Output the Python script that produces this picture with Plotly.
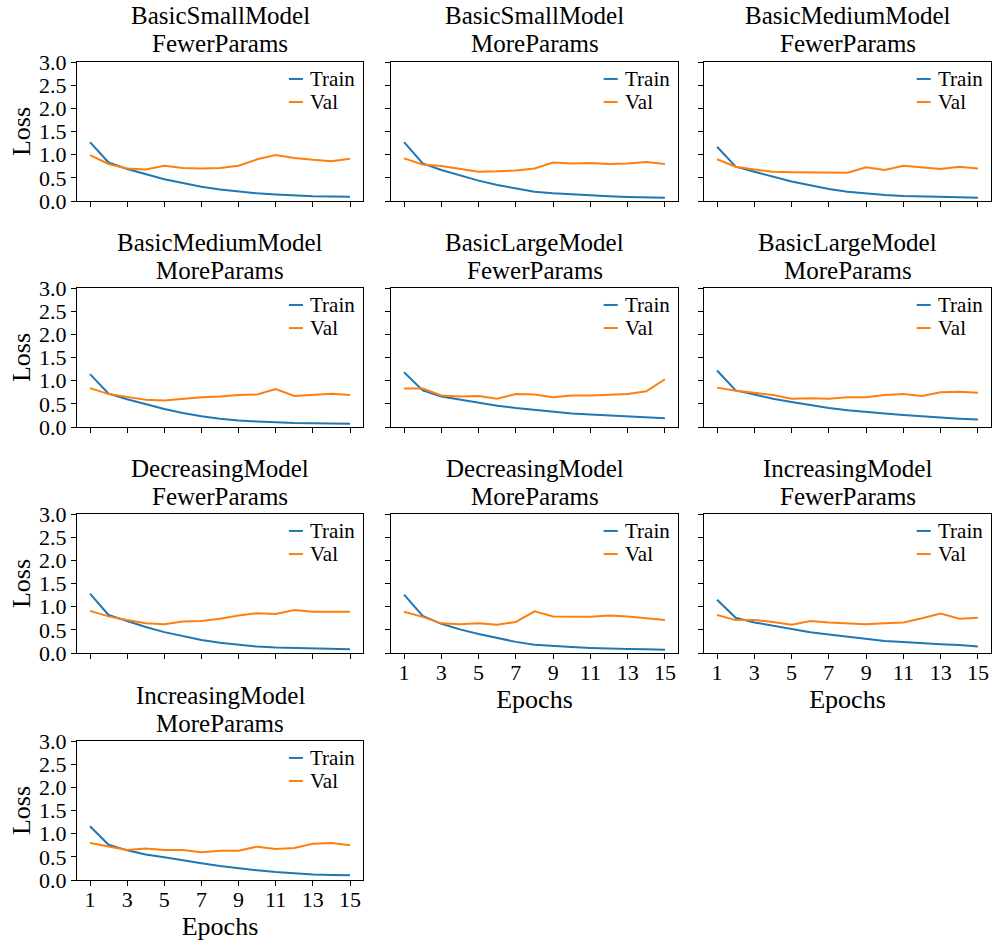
import plotly.graph_objects as go

epochs = list(range(1, 16))
x_tick_vals = [1, 3, 5, 7, 9, 11, 13, 15]
y_tick_vals = [0.0, 0.5, 1.0, 1.5, 2.0, 2.5, 3.0]

# Per-model loss curves (train / validation) over 15 epochs
train_basic_small_fewer = [1.27, 0.83, 0.69, 0.58, 0.47, 0.39, 0.31, 0.25, 0.20, 0.165, 0.14, 0.115, 0.10, 0.095, 0.09]
val_basic_small_fewer = [0.99, 0.80, 0.70, 0.68, 0.76, 0.71, 0.70, 0.71, 0.76, 0.90, 0.99, 0.93, 0.89, 0.86, 0.91]

train_basic_small_more = [1.27, 0.81, 0.67, 0.55, 0.44, 0.345, 0.27, 0.20, 0.165, 0.14, 0.115, 0.10, 0.085, 0.08, 0.07]
val_basic_small_more = [0.92, 0.79, 0.755, 0.69, 0.63, 0.64, 0.66, 0.70, 0.83, 0.81, 0.82, 0.80, 0.81, 0.84, 0.80]

train_basic_medium_fewer = [1.17, 0.74, 0.63, 0.53, 0.42, 0.34, 0.26, 0.20, 0.16, 0.13, 0.11, 0.095, 0.085, 0.08, 0.07]
val_basic_medium_fewer = [0.90, 0.74, 0.68, 0.63, 0.62, 0.62, 0.62, 0.61, 0.73, 0.67, 0.76, 0.73, 0.69, 0.74, 0.70]

train_basic_medium_more = [1.14, 0.72, 0.60, 0.49, 0.39, 0.30, 0.23, 0.18, 0.14, 0.12, 0.10, 0.085, 0.08, 0.07, 0.07]
val_basic_medium_more = [0.84, 0.71, 0.65, 0.59, 0.57, 0.61, 0.64, 0.66, 0.69, 0.70, 0.82, 0.67, 0.70, 0.72, 0.69]

train_basic_large_fewer = [1.18, 0.79, 0.66, 0.59, 0.52, 0.46, 0.41, 0.37, 0.33, 0.29, 0.27, 0.25, 0.235, 0.22, 0.19]
val_basic_large_fewer = [0.83, 0.83, 0.68, 0.66, 0.67, 0.61, 0.71, 0.70, 0.64, 0.68, 0.68, 0.69, 0.71, 0.77, 1.03]

train_basic_large_more = [1.22, 0.79, 0.70, 0.61, 0.54, 0.47, 0.41, 0.36, 0.32, 0.29, 0.26, 0.23, 0.20, 0.18, 0.16]
val_basic_large_more = [0.85, 0.78, 0.74, 0.69, 0.61, 0.62, 0.61, 0.64, 0.64, 0.69, 0.71, 0.67, 0.75, 0.76, 0.74]

train_decreasing_fewer = [1.28, 0.82, 0.69, 0.56, 0.45, 0.36, 0.28, 0.22, 0.18, 0.14, 0.12, 0.11, 0.10, 0.09, 0.08]
val_decreasing_fewer = [0.91, 0.79, 0.71, 0.64, 0.62, 0.68, 0.69, 0.74, 0.81, 0.86, 0.84, 0.93, 0.89, 0.89, 0.89]

train_decreasing_more = [1.26, 0.80, 0.63, 0.51, 0.41, 0.32, 0.24, 0.18, 0.15, 0.13, 0.11, 0.09, 0.085, 0.08, 0.07]
val_decreasing_more = [0.89, 0.78, 0.64, 0.62, 0.64, 0.61, 0.67, 0.90, 0.79, 0.79, 0.78, 0.81, 0.79, 0.75, 0.71]

train_increasing_fewer = [1.15, 0.76, 0.66, 0.59, 0.51, 0.45, 0.40, 0.35, 0.31, 0.26, 0.24, 0.21, 0.19, 0.17, 0.14]
val_increasing_fewer = [0.82, 0.71, 0.71, 0.67, 0.61, 0.69, 0.66, 0.64, 0.62, 0.64, 0.66, 0.75, 0.85, 0.74, 0.76]

train_increasing_more = [1.16, 0.76, 0.64, 0.55, 0.49, 0.42, 0.36, 0.30, 0.25, 0.21, 0.17, 0.14, 0.12, 0.11, 0.10]
val_increasing_more = [0.80, 0.73, 0.65, 0.68, 0.65, 0.645, 0.60, 0.63, 0.63, 0.72, 0.67, 0.69, 0.78, 0.80, 0.75]

panels = [
    ("BasicSmallModel", "FewerParams", train_basic_small_fewer, val_basic_small_fewer),
    ("BasicSmallModel", "MoreParams", train_basic_small_more, val_basic_small_more),
    ("BasicMediumModel", "FewerParams", train_basic_medium_fewer, val_basic_medium_fewer),
    ("BasicMediumModel", "MoreParams", train_basic_medium_more, val_basic_medium_more),
    ("BasicLargeModel", "FewerParams", train_basic_large_fewer, val_basic_large_fewer),
    ("BasicLargeModel", "MoreParams", train_basic_large_more, val_basic_large_more),
    ("DecreasingModel", "FewerParams", train_decreasing_fewer, val_decreasing_fewer),
    ("DecreasingModel", "MoreParams", train_decreasing_more, val_decreasing_more),
    ("IncreasingModel", "FewerParams", train_increasing_fewer, val_increasing_fewer),
    ("IncreasingModel", "MoreParams", train_increasing_more, val_increasing_more),
]

W, H = 995, 945
FONT = "Liberation Serif"
TRAIN_C = "#1f77b4"
VAL_C = "#ff7f0e"

# Pixel extents of the grid cells (left/right, top/bottom)
col_px = [(77, 363), (391, 678), (704, 991)]
row_px = [(62, 201), (288, 427), (514, 653), (741, 880)]

fig = go.Figure()
layout = dict(
    width=W, height=H,
    margin=dict(l=0, r=0, t=0, b=0),
    paper_bgcolor="white", plot_bgcolor="white",
    showlegend=False,
    font=dict(family=FONT, color="black"),
)
annotations = []
shapes = []

for i, (name1, name2, train, val) in enumerate(panels):
    r, c = divmod(i, 3)
    n = i + 1
    xa = "xaxis" if n == 1 else f"xaxis{n}"
    ya = "yaxis" if n == 1 else f"yaxis{n}"
    xr = "x" if n == 1 else f"x{n}"
    yr = "y" if n == 1 else f"y{n}"
    x0, x1 = col_px[c]
    t0, t1 = row_px[r]

    fig.add_trace(go.Scatter(x=epochs, y=train, mode="lines", name="Train",
                             line=dict(color=TRAIN_C, width=2), xaxis=xr, yaxis=yr))
    fig.add_trace(go.Scatter(x=epochs, y=val, mode="lines", name="Val",
                             line=dict(color=VAL_C, width=2), xaxis=xr, yaxis=yr))

    bottom_of_col = (i + 3) >= len(panels)
    layout[xa] = dict(
        domain=[x0 / W, x1 / W], anchor=yr, range=[0.3, 15.7],
        tickmode="array", tickvals=x_tick_vals,
        ticktext=[str(v) for v in x_tick_vals],
        showticklabels=bottom_of_col,
        ticks="outside", ticklen=5, tickwidth=1, tickcolor="black",
        ticklabelstandoff=-5,
        showline=True, linecolor="black", linewidth=1, mirror=True,
        showgrid=False, zeroline=False,
        tickfont=dict(family=FONT, size=22, color="black"),
        title=dict(text="Epochs" if bottom_of_col else "",
                   font=dict(family=FONT, size=26, color="black"), standoff=2),
        automargin=False,
    )
    layout[ya] = dict(
        domain=[1 - t1 / H, 1 - t0 / H], anchor=xr, range=[0, 3],
        tickmode="array", tickvals=y_tick_vals,
        ticktext=[f"{v:.1f}" for v in y_tick_vals],
        showticklabels=(c == 0),
        ticks="outside", ticklen=5, tickwidth=1, tickcolor="black",
        showline=True, linecolor="black", linewidth=1, mirror=True,
        showgrid=False, zeroline=False,
        tickfont=dict(family=FONT, size=22, color="black"),
        title=dict(text="Loss" if c == 0 else "",
                   font=dict(family=FONT, size=26, color="black"), standoff=0),
        automargin=False,
    )

    # Two-line panel title
    for line_text, shift in ((name1, 46), (name2, 18)):
        annotations.append(dict(
            text=line_text, xref=f"{xr} domain", yref=f"{yr} domain",
            x=0.5, y=1, xanchor="center", yanchor="middle", yshift=shift,
            showarrow=False, font=dict(family=FONT, size=25, color="black"),
        ))

    # Compact legend in the upper right corner
    for label, color, ly in (("Train", TRAIN_C, 0.878), ("Val", VAL_C, 0.712)):
        shapes.append(dict(type="line", xref=f"{xr} domain", yref=f"{yr} domain",
                           x0=0.741, x1=0.790, y0=ly, y1=ly,
                           line=dict(color=color, width=2)))
        annotations.append(dict(
            text=label, xref=f"{xr} domain", yref=f"{yr} domain",
            x=0.808, y=ly, xanchor="left", yanchor="middle",
            showarrow=False, font=dict(family=FONT, size=21, color="black"),
        ))

layout["annotations"] = annotations
layout["shapes"] = shapes
fig.update_layout(**layout)
fig.write_html("out.html")
